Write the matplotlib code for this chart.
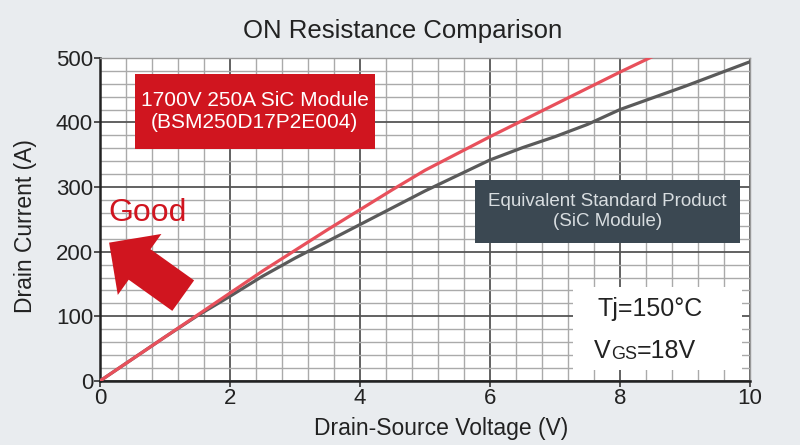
import numpy as np
import matplotlib
matplotlib.use("Agg")
import matplotlib.pyplot as plt
from matplotlib.patches import Rectangle

plt.rcParams['font.family'] = ['Liberation Sans', 'DejaVu Sans']

# data
vds = [0, 0.5, 1, 1.5, 2, 2.5, 3, 3.5, 4, 4.5, 5, 5.5, 6, 6.5, 7, 7.5, 8, 8.5, 9, 9.5, 10]
id_rohm = [0, 34, 68, 102, 136, 170, 202, 234, 265, 296, 326, 352, 378, 403, 428, 453, 478, 502]
id_std = [0, 34, 68, 101, 131, 162, 190, 216, 242, 268, 294, 318, 342, 361, 378, 397, 420, 438,
          456, 475, 494]
x_ticks = [0, 2, 4, 6, 8, 10]
y_ticks = [0, 100, 200, 300, 400, 500]

bg = '#e9ecef'
red = '#d0151f'
fig = plt.figure(figsize=(8, 4.45), dpi=100, facecolor=bg)
ax = fig.add_axes([0.125, 0.144, 0.8125, 0.726])
ax.set_facecolor('white')

ax.set_xlim(0, 10)
ax.set_ylim(0, 500)
ax.set_xticks(x_ticks)
ax.set_yticks(y_ticks)
ax.set_xticks(np.arange(0, 10.01, 0.4), minor=True)
ax.set_yticks(np.arange(0, 501, 20), minor=True)
ax.grid(which='major', color='#555555', lw=1.3)
ax.grid(which='minor', color='#aaaaaa', lw=1.0)
ax.set_axisbelow(True)
ax.tick_params(which='minor', length=0)
ax.tick_params(which='major', length=4, width=1.2, color='#333333',
               labelsize=16, labelcolor='#222222', pad=1)
for s in ['left', 'bottom']:
    ax.spines[s].set_color('#222222')
    ax.spines[s].set_linewidth(1.8)
for s in ['top', 'right']:
    ax.spines[s].set_color('#999999')
    ax.spines[s].set_linewidth(1.0)

# white condition box covers part of the grid
ax.add_patch(Rectangle((7.28, 17), 2.6, 128, facecolor='white', edgecolor='none', zorder=1.5))

ax.plot(vds, id_std, color='#5a5a5a', lw=2.3, zorder=3)
ax.plot(vds[:len(id_rohm)], id_rohm, color='#e8505b', lw=2.3, zorder=4)

ax.set_xlabel('Drain-Source Voltage (V)', fontsize=16.5, color='#222222')
ax.set_ylabel('Drain Current (A)', fontsize=16.5, color='#222222')
ax.xaxis.set_label_coords(0.525, -0.112)
ax.yaxis.set_label_coords(-0.097, 0.48)
fig.text(0.503, 0.93, 'ON Resistance Comparison', ha='center', va='center',
         fontsize=18.5, color='#222222')

# red product label
ax.add_patch(Rectangle((0.54, 359), 3.69, 116, facecolor=red, edgecolor='none', zorder=6))
ax.text(2.38, 417, '1700V 250A SiC Module\n(BSM250D17P2E004)', ha='center', va='center',
        fontsize=15, color='white', linespacing=1.2, zorder=7)

# standard product label
ax.add_patch(Rectangle((5.77, 214), 4.08, 97, facecolor='#3b4852', edgecolor='none', zorder=6))
ax.text(7.81, 262, 'Equivalent Standard Product\n(SiC Module)', ha='center', va='center',
        fontsize=13.5, color='#d8dde0', linespacing=1.25, zorder=7)

# test conditions
ax.text(8.46, 111, 'Tj=150°C', ha='center', va='center', fontsize=18, color='#222222', zorder=6)
t_v = ax.text(7.6, 46, 'V', ha='left', va='center', fontsize=18, color='#222222', zorder=6)
t_gs = ax.annotate('GS', xy=(1, 0), xycoords=t_v, ha='left', va='bottom', fontsize=13,
                   color='#222222', zorder=6)
ax.annotate('=18V', xy=(1, 0), xycoords=t_gs, ha='left', va='bottom', fontsize=18,
            color='#222222', zorder=6)

ax.text(0.13, 260, 'Good', ha='left', va='center', fontsize=23, color=red, zorder=6)
ax.annotate('', xy=(0.14, 214), xytext=(1.28, 132), zorder=6,
            arrowprops=dict(arrowstyle='simple,head_length=1.0,head_width=2.0,tail_width=1.0',
                            mutation_scale=27, color=red, shrinkA=0, shrinkB=0, lw=0))

fig.savefig('out.png', dpi=100, facecolor=bg)
